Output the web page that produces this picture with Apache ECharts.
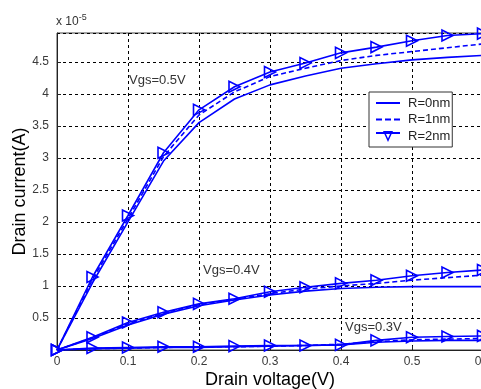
<!DOCTYPE html>
<html><head><meta charset="utf-8">
<script src="https://cdn.jsdelivr.net/npm/echarts@6/dist/echarts.min.js"></script>
<style>html,body{margin:0;padding:0;background:#fff}#c{width:481px;height:389px}</style>
</head><body><div id="c"></div>
<script>
const xs = [0, 0.05, 0.1, 0.15, 0.2, 0.25, 0.3, 0.35, 0.4, 0.45, 0.5, 0.55, 0.6];
const legendNames = ['R=0nm', 'R=1nm', 'R=2nm'];
const xTicks = ['0', '0.1', '0.2', '0.3', '0.4', '0.5', '0.6'];
const yTicks = ['0.5', '1', '1.5', '2', '2.5', '3', '3.5', '4', '4.5'];
const annotations = ['Vgs=0.5V', 'Vgs=0.4V', 'Vgs=0.3V'];
// values in units of 1e-5 A
const v05_r0 = [0, 1.05, 2.0, 2.95, 3.55, 3.92, 4.14, 4.28, 4.4, 4.47, 4.53, 4.57, 4.6];
const v05_r1 = [0, 1.1, 2.05, 3.02, 3.67, 4.03, 4.27, 4.4, 4.52, 4.6, 4.66, 4.72, 4.78];
const v05_r2 = [0, 1.14, 2.1, 3.08, 3.75, 4.11, 4.34, 4.48, 4.64, 4.73, 4.83, 4.91, 4.94];
const v04_r0 = [0, 0.18, 0.39, 0.56, 0.69, 0.78, 0.86, 0.92, 0.96, 0.98, 0.99, 0.99, 0.99];
const v04_r1 = [0, 0.19, 0.41, 0.58, 0.71, 0.79, 0.88, 0.95, 1.0, 1.04, 1.09, 1.13, 1.17];
const v04_r2 = [0, 0.2, 0.43, 0.59, 0.72, 0.8, 0.91, 0.98, 1.04, 1.09, 1.16, 1.21, 1.25];
const v03_r0 = [0, 0.02, 0.03, 0.04, 0.04, 0.05, 0.06, 0.07, 0.08, 0.12, 0.14, 0.15, 0.15];
const v03_r1 = [0, 0.02, 0.03, 0.04, 0.05, 0.05, 0.06, 0.07, 0.09, 0.13, 0.16, 0.17, 0.18];
const v03_r2 = [0, 0.03, 0.04, 0.05, 0.05, 0.06, 0.07, 0.07, 0.08, 0.15, 0.2, 0.21, 0.22];

const BLUE = '#0000ff';
const FONT = 'Liberation Sans, Arial, sans-serif';
// legend glyph shapes (24x14 box); zero-area anchors fix the box
const BOX = 'M0,0 L24,0 Z M0,14 L24,14 Z ';
const ICON_SOLID = 'path://' + BOX + 'M0,6 L24,6 L24,8 L0,8 Z';
const ICON_DASH = 'path://' + BOX + 'M0,6 L6,6 L6,8 L0,8 Z M9,6 L15,6 L15,8 L9,8 Z M18,6 L24,6 L24,8 L18,8 Z';
const ICON_TRI = 'path://' + BOX + 'M0,3 L24,3 L24,5 L0,5 Z M7,2 L17,2 L12,13 Z M9.2,3.3 L12,9.6 L14.8,3.3 Z';

function pairs(arr){ return arr.map((v,i)=>[xs[i], v]); }
function mk(name, arr, kind){
  const s = {
    name: name, type: 'line', data: pairs(arr), animation: false,
    lineStyle: {color: BLUE, width: 1.6, type: kind === 1 ? [5, 3] : 'solid'},
    itemStyle: {color: BLUE, borderColor: BLUE},
    symbol: 'none', z: 3 - kind
  };
  if (kind === 2) {
    s.symbol = 'triangle'; s.symbolSize = [11, 11]; s.symbolRotate = -90;
    s.showAllSymbol = true;
    s.itemStyle = {color: 'rgba(0,0,0,0)', borderColor: BLUE, borderWidth: 1.6, opacity: 1};
  }
  return s;
}
const groups = [[v05_r0, v05_r1, v05_r2],[v04_r0, v04_r1, v04_r2],[v03_r0, v03_r1, v03_r2]];
const series = [];
groups.forEach(g => g.forEach((arr,k) => series.push(mk(legendNames[k], arr, k))));

const chart = echarts.init(document.getElementById('c'), null, {renderer: 'canvas'});
const labelFont = {color: '#3a3a3a', fontSize: 12, fontFamily: FONT};
const legendItemStyle = {color: BLUE, borderWidth: 0, borderColor: BLUE};
chart.setOption({
  backgroundColor: '#fff',
  animation: false,
  grid: {left: 57, top: 33, width: 426, height: 317, outerBoundsMode: 'none', containLabel: false,
    show: true, borderColor: '#444', borderWidth: 1, backgroundColor: '#fff'},
  xAxis: {
    type: 'value', min: 0, max: 0.6, interval: 0.1,
    axisLine: {show: true, onZero: false, lineStyle: {color: '#222', width: 1}},
    axisTick: {show: true, inside: true, length: 4, lineStyle: {color: '#222'}},
    axisLabel: Object.assign({margin: 6, formatter: (v) => xTicks[Math.round(v * 10)] || ''}, labelFont),
    splitLine: {show: true, lineStyle: {color: '#000', type: [3, 3], width: 1}},
    name: 'Drain voltage(V)', nameLocation: 'middle', nameGap: 21, nameMoveOverlap: false,
    nameTextStyle: {color: '#000', fontSize: 18, fontFamily: FONT}
  },
  yAxis: {
    type: 'value', min: 0, max: 4.95, interval: 0.5,
    axisLine: {show: true, lineStyle: {color: '#222', width: 1}},
    axisTick: {show: true, inside: true, length: 4, lineStyle: {color: '#222'}},
    axisLabel: Object.assign({margin: 8, showMinLabel: false, showMaxLabel: false,
      formatter: (v) => { const i = Math.round(v * 2) - 1; return (i >= 0 && i < yTicks.length) ? yTicks[i] : ''; }}, labelFont),
    splitLine: {show: true, lineStyle: {color: '#000', type: [3, 3], width: 1}},
    name: 'Drain current(A)', nameLocation: 'middle', nameGap: 28, nameMoveOverlap: false,
    nameTextStyle: {color: '#000', fontSize: 18, fontFamily: FONT}
  },
  legend: {
    data: [
      {name: legendNames[0], icon: ICON_SOLID, itemStyle: legendItemStyle},
      {name: legendNames[1], icon: ICON_DASH, itemStyle: legendItemStyle},
      {name: legendNames[2], icon: ICON_TRI, itemStyle: legendItemStyle}
    ],
    orient: 'vertical', left: 369, top: 92,
    backgroundColor: '#fff', borderColor: '#333', borderWidth: 1, borderRadius: 0,
    padding: [4, 2, 4, 7], itemGap: 2.5, itemWidth: 24, itemHeight: 14,
    itemStyle: legendItemStyle, symbolKeepAspect: false,
    textStyle: {color: '#222', fontSize: 13, lineHeight: 14, fontFamily: FONT, padding: [0, 0, 0, 3]},
    selectedMode: false
  },
  graphic: [
    {type: 'text', left: 56, top: 13, style: {text: 'x 10{s|-5}', rich: {s: {fontSize: 9, verticalAlign: 'top', padding: [0,0,8,0], fill: '#333'}}, fill: '#333', fontSize: 12, fontFamily: FONT}},
    {type: 'text', left: 129, top: 74, style: {text: annotations[0], fill: '#333', fontSize: 13, fontFamily: FONT}},
    {type: 'text', left: 203, top: 264, style: {text: annotations[1], fill: '#333', fontSize: 13, fontFamily: FONT}},
    {type: 'text', left: 345, top: 321, style: {text: annotations[2], fill: '#333', fontSize: 13, fontFamily: FONT}}
  ],
  series: series
});
</script></body></html>
